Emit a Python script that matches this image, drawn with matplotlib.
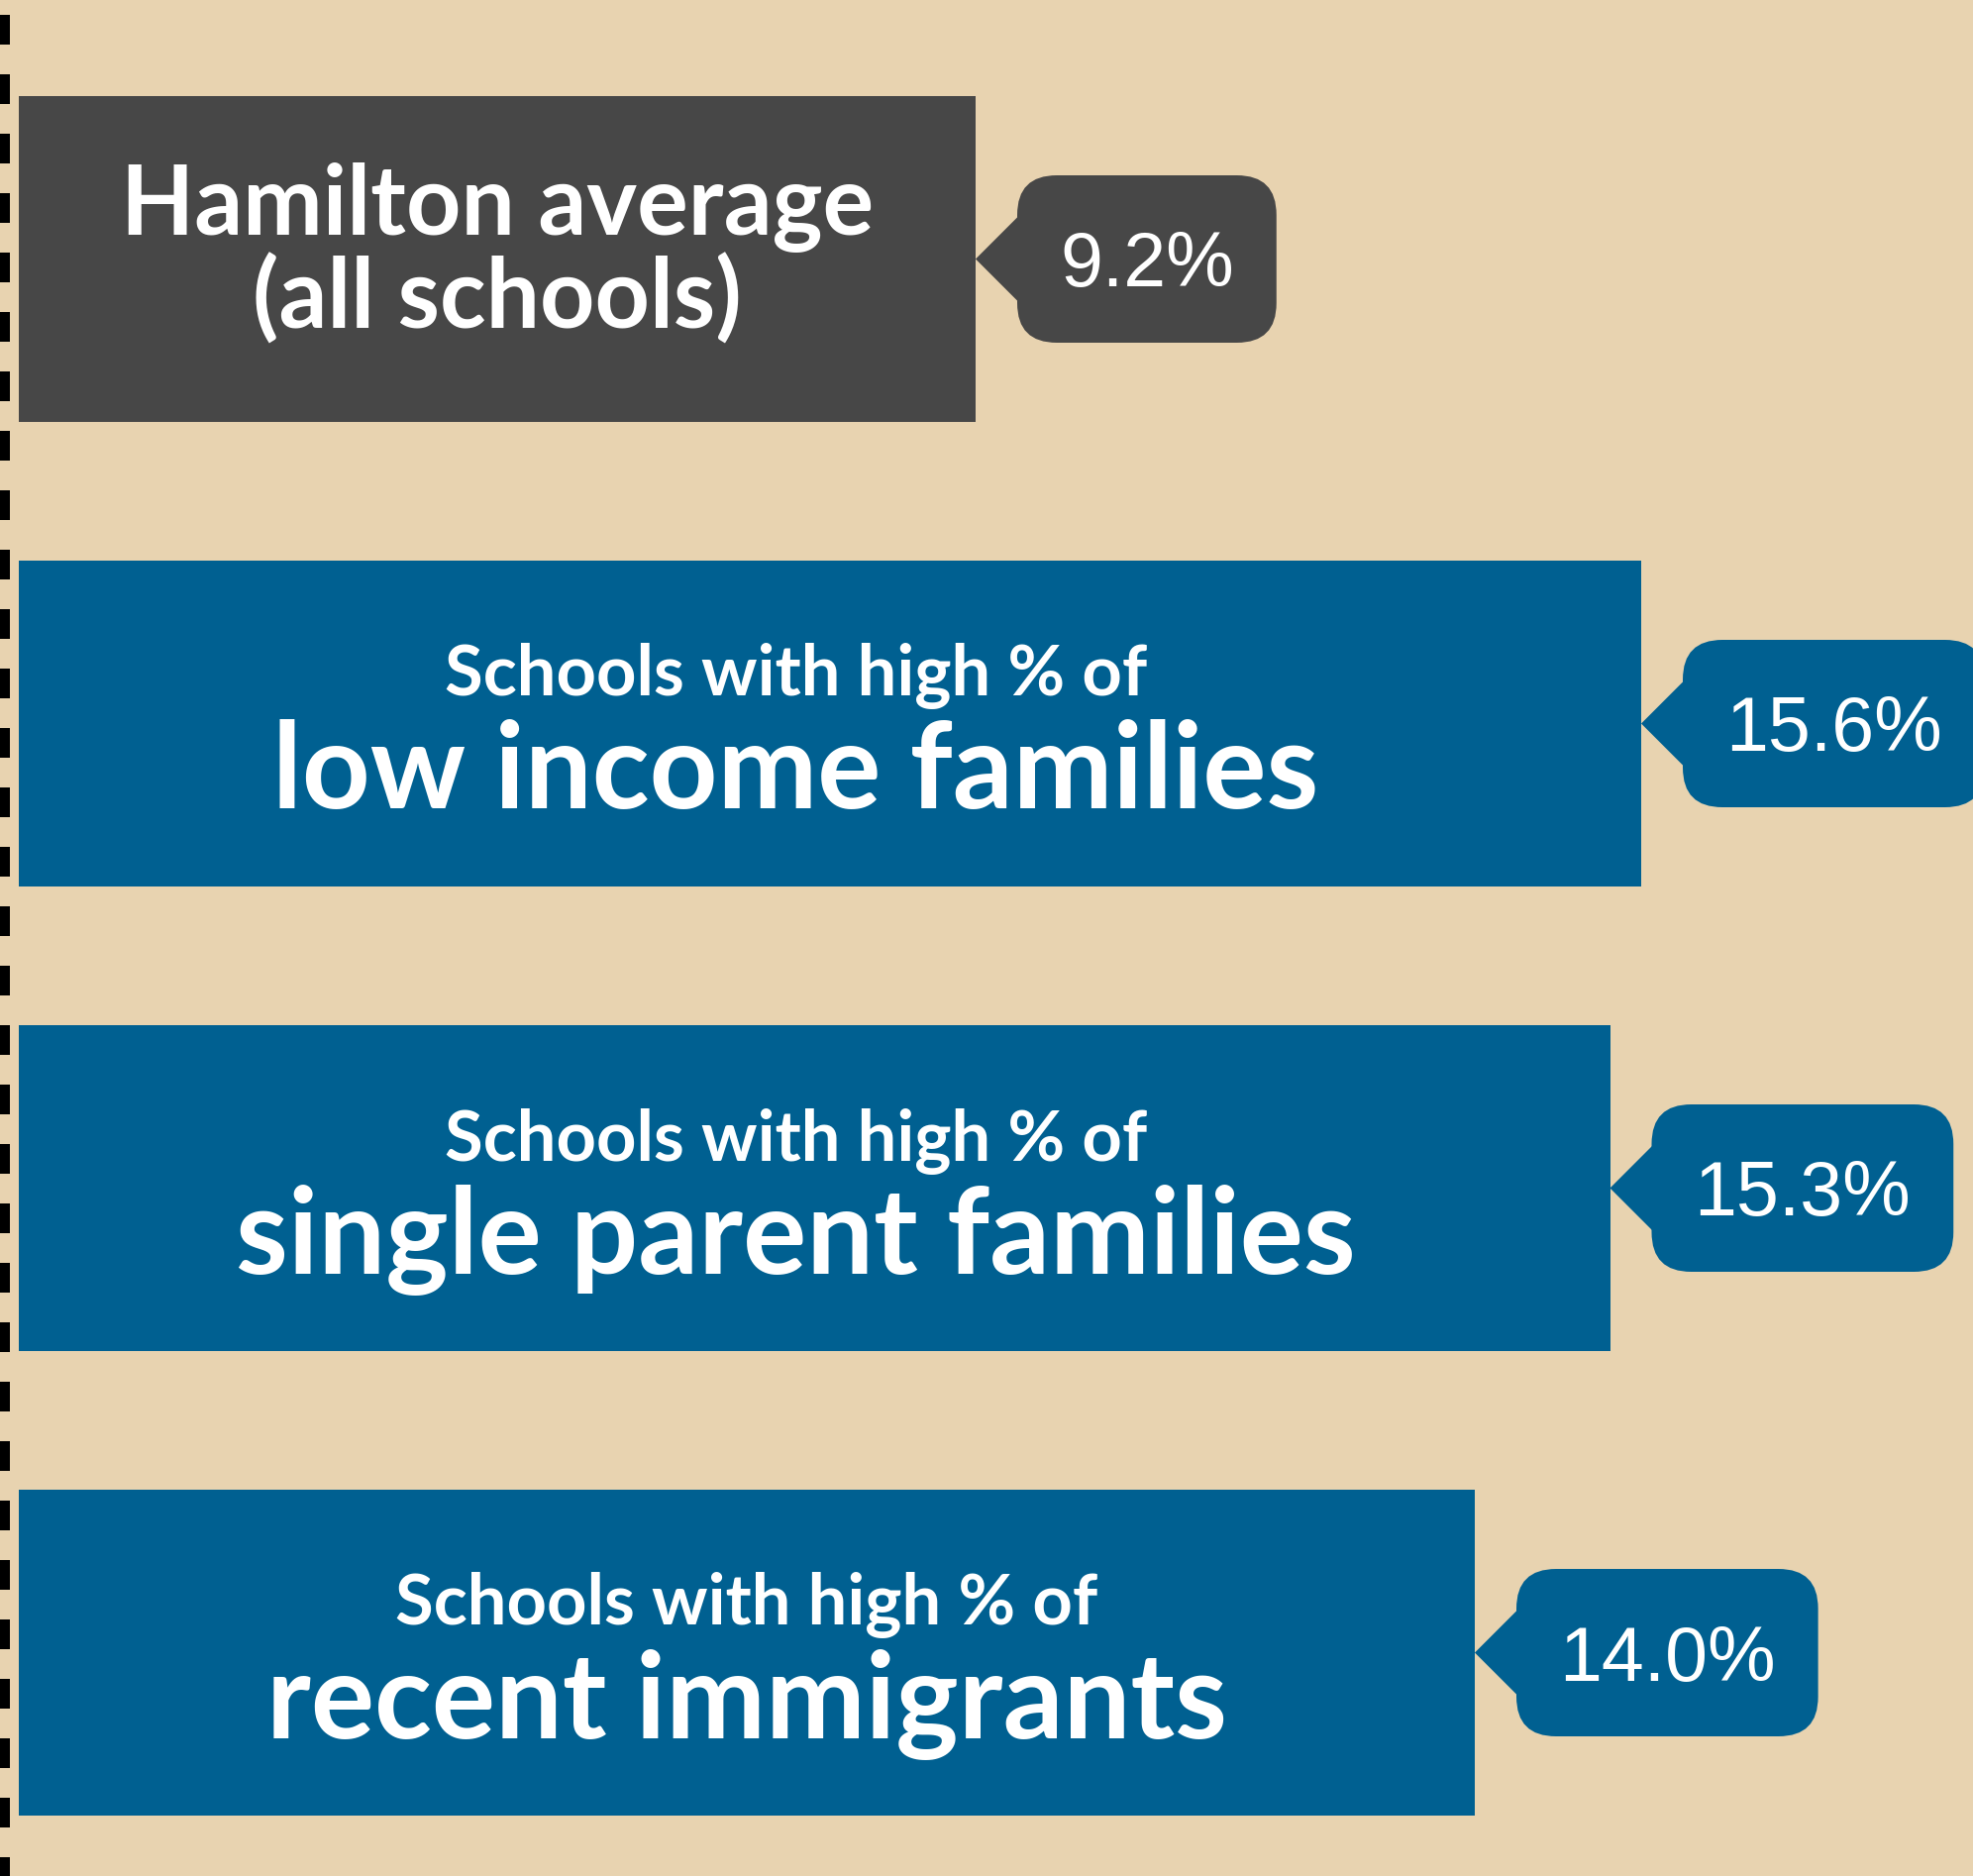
import matplotlib
matplotlib.use("Agg")
import matplotlib.pyplot as plt
from matplotlib.patches import FancyBboxPatch, Polygon

# dropout rates by school group
values = [9.2, 15.6, 15.3, 14.0]
top_lines = ["Hamilton average", "Schools with high % of",
             "Schools with high % of", "Schools with high % of"]
bottom_lines = ["(all schools)", "low income families",
                "single parent families", "recent immigrants"]
bar_colors = ["#474747", "#006091", "#006091", "#006091"]

BG = "#E8D3B0"
W, H = 1992, 1894
XPX = 105.0   # pixels per percentage point
YPX = 469.0   # pixels per row
X0 = 19       # pixel position of zero
Y0 = 261.5    # pixel centre of the first row


def px_x(p):
    return p / XPX


def px_y(p):
    return p / YPX


fig = plt.figure(figsize=(W / 100, H / 100), dpi=100, facecolor=BG)
ax = fig.add_axes([0, 0, 1, 1])
ax.set_facecolor(BG)
ax.set_xlim(-X0 / XPX, (W - X0) / XPX)
ax.set_ylim((H - Y0) / YPX, -Y0 / YPX)
ax.axis("off")

rows = list(range(len(values)))
ax.barh(rows, values, height=px_y(329), color=bar_colors, left=0)

# dashed rule along the left edge
plt.rcParams["lines.scale_dashes"] = False
ax.plot([0, 0], [1, 0], transform=ax.transAxes, color="black",
        linewidth=14.4, linestyle=(32.4, (21.6, 21.6)),
        dash_capstyle="butt", clip_on=True)

renderer = fig.canvas.get_renderer()
label_font = dict(color="white", fontfamily="Lato", fontweight="bold",
                  ha="center", va="baseline")

for i, v in enumerate(values):
    color = bar_colors[i]
    # category text inside the bar
    xc = min(v / 2, 7.47)
    if i == 0:
        ax.text(xc, i + px_y(-24.5), top_lines[i], fontsize=69.5, **label_font)
        ax.text(xc, i + px_y(70.5), bottom_lines[i], fontsize=69.5, **label_font)
    else:
        ax.text(xc, i + px_y(-28), top_lines[i], fontsize=50.8, **label_font)
        ax.text(xc, i + px_y(86), bottom_lines[i], fontsize=86.5, **label_font)

    # value callout to the right of the bar
    left = v + px_x(42)
    t = ax.text(left, i + px_y(28), f"{v:.1f}%", ha="left", va="baseline",
                color="white", fontsize=55.5, fontfamily="Liberation Sans", zorder=5)
    tw = t.get_window_extent(renderer).width
    pad = 43
    bw = tw + 2 * pad
    t.set_x(left + px_x(pad))
    bubble = FancyBboxPatch((left, i - px_y(84.5)), px_x(bw), px_y(169),
                            boxstyle=f"round,pad=0,rounding_size={px_x(40)}",
                            mutation_aspect=XPX / YPX, facecolor=color,
                            edgecolor="none", zorder=3)
    ax.add_patch(bubble)
    tip = Polygon([(v, i), (v + px_x(52), i - px_y(52)), (v + px_x(52), i + px_y(52))],
                  closed=True, facecolor=color, edgecolor="none", zorder=3)
    ax.add_patch(tip)

fig.savefig("out.png", dpi=100, facecolor=BG)
